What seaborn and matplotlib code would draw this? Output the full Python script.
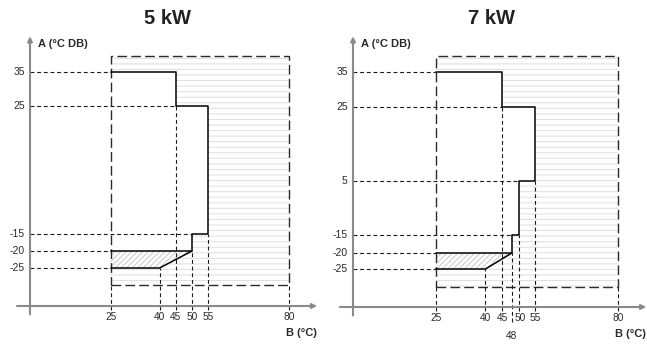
import numpy as np
import matplotlib
matplotlib.use('Agg')
import matplotlib.pyplot as plt
from matplotlib.patches import Polygon
import seaborn as sns

# ---- data (B = water temperature °C, A = outdoor air °C DB) ----
titles = ['5 kW', '7 kW']

box_b = [25, 80]
box_a = [-30, 40]

env5_b = [25, 45, 45, 55, 55, 50, 50, 25]
env5_a = [35, 35, 25, 25, -15, -15, -20, -20]
low5_b = [25, 40, 50]
low5_a = [-25, -25, -20]

env7_b = [25, 45, 45, 55, 55, 50, 50, 48, 48, 25]
env7_a = [35, 35, 25, 25, 5, 5, -15, -15, -20, -20]
low7_b = [25, 40, 48]
low7_a = [-25, -25, -20]

ytick5 = [35, 25, -15, -20, -25]
yguide5 = [25, 45, 50, 25, 25]          # B where the dashed guide stops
xtick5 = [25, 40, 45, 50, 55, 80]
xguide5 = [-30, -25, 25, -20, -15, -30]  # A where the dashed guide stops

ytick7 = [35, 25, 5, -15, -20, -25]
yguide7 = [25, 45, 50, 48, 25, 25]
xtick7 = [25, 40, 45, 48, 50, 55, 80]
xguide7 = [-30, -25, 25, -20, -15, 5, -30]

# ---- layout (the drawing is not to scale on A) ----
W, H = 647, 345
AX_TOP = 35
panels = [
    dict(env_b=env5_b, env_a=env5_a, low_b=low5_b, low_a=low5_a,
         ytick=ytick5, yguide=yguide5, xtick=xtick5, xguide=xguide5,
         left=0, right=320, x0=30, sx=3.24, title_x=167,
         a_anchor=[-36, -30, -25, -20, -15, 25, 35, 40],
         px_anchor=[306, 285, 268, 251, 234, 106, 72, 56]),
    dict(env_b=env7_b, env_a=env7_a, low_b=low7_b, low_a=low7_a,
         ytick=ytick7, yguide=yguide7, xtick=xtick7, xguide=xguide7,
         left=322, right=647, x0=353, sx=3.31, title_x=492,
         a_anchor=[-36, -30, -25, -20, -15, 5, 25, 35, 40],
         px_anchor=[307, 287, 269, 253, 235, 181, 107, 72, 56]),
]

sns.set_theme(style='white')
plt.rcParams['font.family'] = ['Liberation Sans', 'DejaVu Sans']
plt.rcParams['hatch.linewidth'] = 0.7

fig = plt.figure(figsize=(W / 100, H / 100), dpi=100)

AXIS_C = '#8a8a8a'
LINE_C = '#1a1a1a'
TEXT_C = '#2a2a2a'


def make_scale(a_anchor, px_anchor):
    a = np.array(a_anchor, float)
    p = np.array(px_anchor, float)
    a = np.r_[a[0] - 200, a, a[-1] + 200]
    p = np.r_[p[0] + 200 * 3.4, p, p[-1] - 200 * 3.4]
    h = H - p
    return (lambda v: np.interp(v, a, h)), (lambda v: np.interp(v, h, a))


for i, p in enumerate(panels):
    ax = fig.add_axes([p['left'] / W, 0, (p['right'] - p['left']) / W,
                       (H - AX_TOP) / H])
    fwd, inv = make_scale(p['a_anchor'], p['px_anchor'])
    ax.set_yscale('function', functions=(fwd, inv))
    ax.set_xlim((p['left'] - p['x0']) / p['sx'], (p['right'] - p['x0']) / p['sx'])
    ax.set_ylim(inv(0), inv(H - AX_TOP))
    ax.axis('off')

    # hatched background (outside of envelope)
    bx = [box_b[0], box_b[1], box_b[1], box_b[0]]
    by = [box_a[0], box_a[0], box_a[1], box_a[1]]
    ax.add_patch(Polygon(list(zip(bx, by)), closed=True, facecolor='white',
                         edgecolor='#dedede', lw=0, hatch='---', zorder=1))
    ax.add_patch(Polygon(list(zip(p['env_b'], p['env_a'])), closed=True,
                         facecolor='white', edgecolor='none', zorder=2))
    low_poly = list(zip(p['low_b'], p['low_a'])) + [(p['low_b'][0], p['low_a'][-1])]
    ax.add_patch(Polygon(low_poly, closed=True, facecolor='white',
                         edgecolor='#c8c8c8', lw=0, hatch='//////', zorder=2))

    # outer long-dashed box
    ax.plot(bx + [bx[0]], by + [by[0]], color='#2a2a2a', lw=1.0,
            dashes=(7, 3), zorder=3)

    # short dashed guides
    for a_val, b_end in zip(p['ytick'], p['yguide']):
        ax.plot([0, b_end], [a_val, a_val], color=LINE_C, lw=0.8,
                dashes=(3.5, 2.5), zorder=4)
    for b_val, a_top in zip(p['xtick'], p['xguide']):
        a_bot = -40.5 if b_val == 48 else -37.2
        ax.plot([b_val, b_val], [a_bot, a_top], color=LINE_C, lw=0.8,
                dashes=(3.5, 2.5), zorder=4)

    # solid envelope outlines
    sns.lineplot(x=p['env_b'], y=p['env_a'], sort=False, estimator=None,
                 color='black', lw=1.1, ax=ax, zorder=5)
    sns.lineplot(x=p['low_b'], y=p['low_a'], sort=False, estimator=None,
                 color='black', lw=1.1, ax=ax, zorder=5)

    # axes with arrows
    ax.annotate('', xy=(0, 45.8), xytext=(0, -38.5),
                arrowprops=dict(arrowstyle='-|>', color=AXIS_C, lw=1.5,
                                mutation_scale=7, shrinkA=0, shrinkB=0), zorder=6)
    ax.annotate('', xy=(88.6, -36), xytext=(-4, -36),
                arrowprops=dict(arrowstyle='-|>', color=AXIS_C, lw=1.5,
                                mutation_scale=7, shrinkA=0, shrinkB=0), zorder=6)

    # labels
    for a_val in p['ytick']:
        ax.text(-1.6, a_val, str(a_val), ha='right', va='center', fontsize=7.5,
                color=TEXT_C)
    for b_val in p['xtick']:
        ax.text(b_val + (0.6 if b_val == 50 and 48 in p['xtick'] else 0),
                -43.0 if b_val == 48 else -37.8, str(b_val), ha='center',
                va='top', fontsize=7.3, color=TEXT_C)
    ax.text(2.5, 43.4, 'A (°C DB)', ha='left', va='center', fontsize=8,
            fontweight='bold', color=TEXT_C)
    ax.text(88.6, -44, 'B (°C)', ha='right', va='center', fontsize=8,
            fontweight='bold', color=TEXT_C)

    fig.text(p['title_x'] / W, 1 - 19 / H, titles[i], ha='center', va='center',
             fontsize=14.5, fontweight='bold', color='#222222')

fig.savefig('out.png', dpi=100)
